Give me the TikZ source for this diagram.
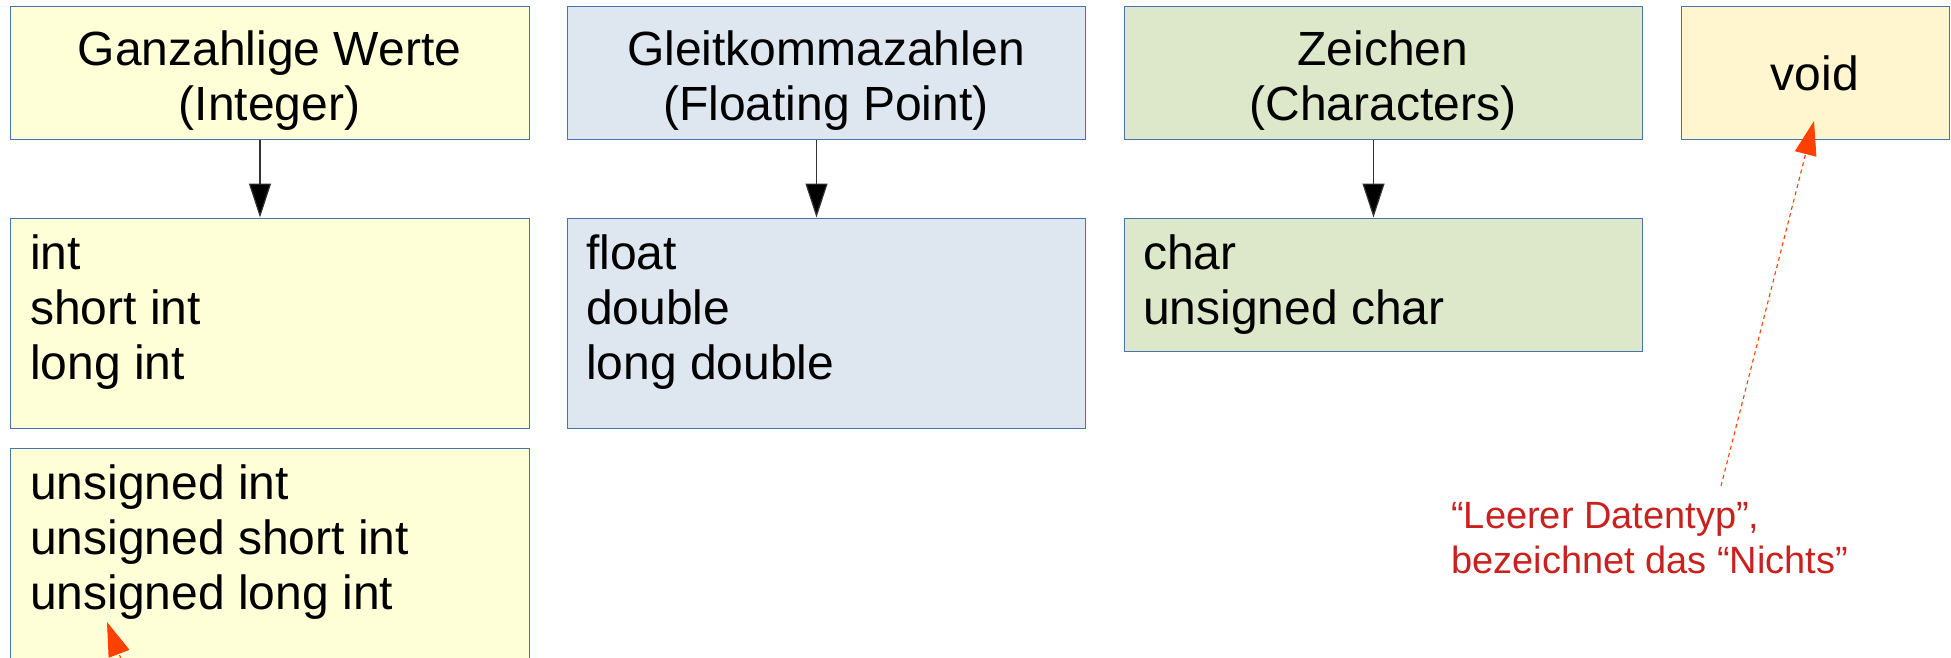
\documentclass[tikz,border=0pt]{standalone}
\usepackage{fontspec}
\setmainfont{Liberation Sans}
\usetikzlibrary{arrows.meta}
\definecolor{intfill}{HTML}{FFFFD7}
\definecolor{fltfill}{HTML}{DEE6EF}
\definecolor{chrfill}{HTML}{DDE8CB}
\definecolor{voidfill}{HTML}{FFF5CE}
\definecolor{edge}{HTML}{4A72B0}
\definecolor{note}{HTML}{C9211E}
\definecolor{hint}{HTML}{FF4000}

\tikzset{
  box/.style={draw=edge, line width=1pt, inner sep=0pt},
  title/.style={font=\fontsize{48}{55}\selectfont, anchor=base, inner sep=0pt},
  item/.style={font=\fontsize{48}{55}\selectfont, anchor=base west, inner sep=0pt},
  link/.style={draw=black!80, line width=1.2pt, -{Triangle[width=22pt,length=34pt,fill=black]}},
  pointer/.style={draw=hint, line width=1.1pt, dash pattern=on 4pt off 3.5pt,
    -{Triangle[width=22pt,length=34pt,fill=hint]}},
  remark/.style={font=\fontsize{38}{45}\selectfont, text=note, anchor=base west, inner sep=0pt}
}

\begin{document}
\begin{tikzpicture}[x=1pt, y=-1pt]
  \useasboundingbox (0,0) rectangle (1951,657);
  \clip (0,0) rectangle (1951,657);

  % category headers
  \node[box, fill=intfill,  minimum width=519pt, minimum height=133pt] (gint)  at (269.5,72.5) {};
  \node[box, fill=fltfill,  minimum width=518pt, minimum height=133pt] (gflt)  at (826,72.5) {};
  \node[box, fill=chrfill,  minimum width=518pt, minimum height=133pt] (gchr)  at (1383,72.5) {};
  \node[box, fill=voidfill, minimum width=268pt, minimum height=133pt] (gvoid) at (1815,72.5) {};

  % type lists
  \node[box, fill=intfill, minimum width=519pt, minimum height=210pt] (iint) at (269.5,323) {};
  \node[box, fill=intfill, minimum width=519pt, minimum height=252pt] (uint) at (269.5,574) {};
  \node[box, fill=fltfill, minimum width=518pt, minimum height=210pt] (iflt) at (826,323) {};
  \node[box, fill=chrfill, minimum width=518pt, minimum height=133pt] (ichr) at (1383,284.5) {};

  % header texts
  \node[title] (tint1) at (269.5,65)  {Ganzahlige Werte};
  \node[title] (tint2) at (269.5,120) {(Integer)};
  \node[title] (tflt1) at (826,65)    {Gleitkommazahlen};
  \node[title] (tflt2) at (826,120)   {(Floating Point)};
  \node[title] (tchr1) at (1383,65)   {Zeichen};
  \node[title] (tchr2) at (1383,120)  {(Characters)};
  \node[title] (tvoid) at (1815,90)   {void};

  % list entries
  \node[item] (l1) at (30,269)  {int};
  \node[item] (l2) at (30,324)  {short int};
  \node[item] (l3) at (30,379)  {long int};
  \node[item] (u1) at (30,499)  {unsigned int};
  \node[item] (u2) at (30,554)  {unsigned short int};
  \node[item] (u3) at (30,609)  {unsigned long int};
  \node[item] (f1) at (586,269) {float};
  \node[item] (f2) at (586,324) {double};
  \node[item] (f3) at (586,379) {long double};
  \node[item] (c1) at (1143,269) {char};
  \node[item] (c2) at (1143,324) {unsigned char};

  % header to list connectors
  \draw[link] ([xshift=-9.5pt]gint.south) -- ([xshift=-9.5pt]iint.north);
  \draw[link] ([xshift=-9.5pt]gflt.south) -- ([xshift=-9.5pt]iflt.north);
  \draw[link] ([xshift=-9.5pt]gchr.south) -- ([xshift=-9.5pt]ichr.north);

  % annotation for void
  \node[remark] (r1) at (1451,528) {“Leerer Datentyp”,};
  \node[remark] (r2) at (1451,573) {bezeichnet das “Nichts”};
  \coordinate (voidsrc) at (1721,486);
  \coordinate (voidtip) at (1814,121);
  \draw[pointer] (voidsrc) -- (voidtip);

  % pointer entering from below
  \coordinate (usrc) at (145,722);
  \coordinate (utip) at (107,622);
  \draw[pointer] (usrc) -- (utip);
\end{tikzpicture}
\end{document}
